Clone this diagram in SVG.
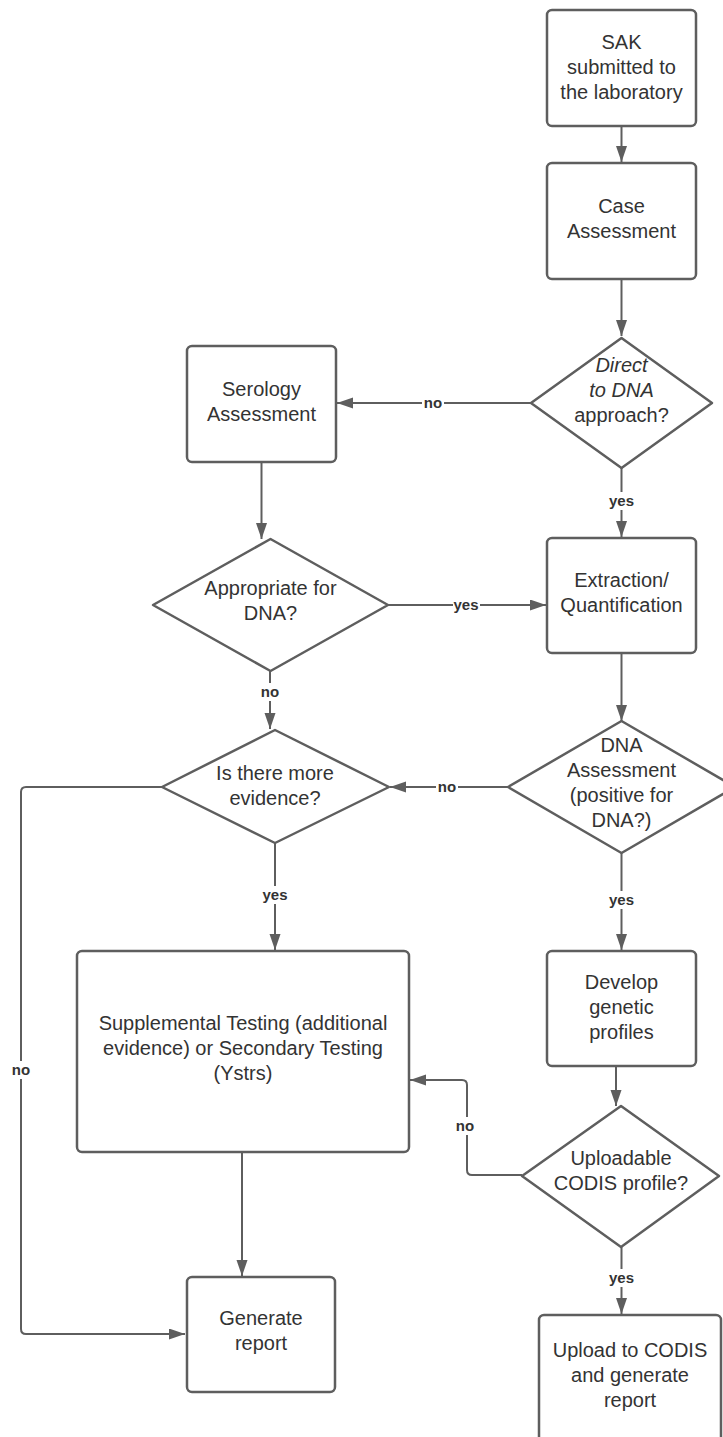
<svg xmlns="http://www.w3.org/2000/svg" width="723" height="1437" viewBox="0 0 723 1437">
<style>
.box{fill:#fff;stroke:#5e5e5e;stroke-width:2.5;stroke-linejoin:round}
.t{font-family:"Liberation Sans",Arial,sans-serif;font-size:20px;fill:#333;text-anchor:middle}
.i{font-style:italic}
.c{fill:none;stroke:#5e5e5e;stroke-width:2}
.lb{font-family:"Liberation Sans",Arial,sans-serif;font-size:15px;font-weight:bold;fill:#333;text-anchor:middle}
.bg{fill:#fff}
</style>
<defs>
<marker id="ah" markerUnits="userSpaceOnUse" markerWidth="17" markerHeight="12" refX="16" refY="5.5" orient="auto">
<path d="M0,0 L16,5.5 L0,11 z" fill="#5e5e5e"/>
</marker>
</defs>
<rect width="723" height="1437" fill="#fff"/>
<g id="connectors">
<path class="c" d="M621.5,126 V162" marker-end="url(#ah)"/>
<path class="c" d="M621.5,279 V336" marker-end="url(#ah)"/>
<path class="c" d="M531,403 H337" marker-end="url(#ah)"/>
<path class="c" d="M621.5,468 V537" marker-end="url(#ah)"/>
<path class="c" d="M261.5,462 V539" marker-end="url(#ah)"/>
<path class="c" d="M388,605 H546" marker-end="url(#ah)"/>
<path class="c" d="M270,671 V729" marker-end="url(#ah)"/>
<path class="c" d="M621.5,653 V721" marker-end="url(#ah)"/>
<path class="c" d="M508,787 H390" marker-end="url(#ah)"/>
<path class="c" d="M162,787 H26 Q21,787 21,792 V1329 Q21,1334 26,1334 H185" marker-end="url(#ah)"/>
<path class="c" d="M275,843 V950" marker-end="url(#ah)"/>
<path class="c" d="M621.5,853 V950" marker-end="url(#ah)"/>
<path class="c" d="M616,1066 V1106" marker-end="url(#ah)"/>
<path class="c" d="M522,1175 H472 Q467,1175 467,1170 V1085 Q467,1080 462,1080 H410" marker-end="url(#ah)"/>
<path class="c" d="M621.5,1247 V1314" marker-end="url(#ah)"/>
<path class="c" d="M242,1152 V1276" marker-end="url(#ah)"/>
<rect class="bg" x="422" y="394" width="22" height="18"/><text class="lb" x="433" y="408">no</text>
<rect class="bg" x="453" y="596" width="27" height="18"/><text class="lb" x="466" y="610">yes</text>
<rect class="bg" x="259" y="683" width="22" height="18"/><text class="lb" x="270" y="697">no</text>
<rect class="bg" x="608" y="492" width="27" height="18"/><text class="lb" x="621.5" y="506">yes</text>
<rect class="bg" x="436" y="778" width="22" height="18"/><text class="lb" x="447" y="792">no</text>
<rect class="bg" x="262" y="886" width="27" height="18"/><text class="lb" x="275" y="900">yes</text>
<rect class="bg" x="608" y="891" width="27" height="18"/><text class="lb" x="621.5" y="905">yes</text>
<rect class="bg" x="10" y="1061" width="22" height="18"/><text class="lb" x="21" y="1075">no</text>
<rect class="bg" x="454" y="1117" width="22" height="18"/><text class="lb" x="465" y="1131">no</text>
<rect class="bg" x="608" y="1269" width="27" height="18"/><text class="lb" x="621.5" y="1283">yes</text>
</g>
<g id="n-sak">
<rect class="box" x="547" y="10" width="149" height="116" rx="5"/>
<text class="t" x="621.5" y="49">SAK</text>
<text class="t" x="621.5" y="74">submitted to</text>
<text class="t" x="621.5" y="99">the laboratory</text>
</g>
<g id="n-case">
<rect class="box" x="547" y="163" width="149" height="116" rx="5"/>
<text class="t" x="621.5" y="213">Case</text>
<text class="t" x="621.5" y="238">Assessment</text>
</g>
<g id="n-direct">
<path class="box" d="M621.5,338 L712,403 L621.5,468 L531,403 Z"/>
<text class="t i" x="621.5" y="372">Direct</text>
<text class="t i" x="621.5" y="397">to DNA</text>
<text class="t" x="621.5" y="422">approach?</text>
</g>
<g id="n-serology">
<rect class="box" x="187" y="346" width="149" height="116" rx="5"/>
<text class="t" x="261.5" y="396">Serology</text>
<text class="t" x="261.5" y="421">Assessment</text>
</g>
<g id="n-appropriate">
<path class="box" d="M270.5,539 L388,605 L270.5,671 L153,605 Z"/>
<text class="t" x="270.5" y="595">Appropriate for</text>
<text class="t" x="270.5" y="620">DNA?</text>
</g>
<g id="n-extraction">
<rect class="box" x="547" y="538" width="149" height="115" rx="5"/>
<text class="t" x="621.5" y="587">Extraction/</text>
<text class="t" x="621.5" y="612">Quantification</text>
</g>
<g id="n-dna">
<path class="box" d="M621.5,721 L735,787 L621.5,853 L508,787 Z"/>
<text class="t" x="621.5" y="752">DNA</text>
<text class="t" x="621.5" y="777">Assessment</text>
<text class="t" x="621.5" y="802">(positive for</text>
<text class="t" x="621.5" y="827">DNA?)</text>
</g>
<g id="n-more">
<path class="box" d="M275,730 L389,787 L275,843 L162,787 Z"/>
<text class="t" x="275" y="780">Is there more</text>
<text class="t" x="275" y="805">evidence?</text>
</g>
<g id="n-supplemental">
<rect class="box" x="77" y="951" width="332" height="201" rx="5"/>
<text class="t" x="243" y="1030">Supplemental Testing (additional</text>
<text class="t" x="243" y="1055">evidence) or Secondary Testing</text>
<text class="t" x="243" y="1080">(Ystrs)</text>
</g>
<g id="n-develop">
<rect class="box" x="547" y="951" width="149" height="115" rx="5"/>
<text class="t" x="621.5" y="989">Develop</text>
<text class="t" x="621.5" y="1014">genetic</text>
<text class="t" x="621.5" y="1039">profiles</text>
</g>
<g id="n-uploadable">
<path class="box" d="M621,1106 L719,1176 L621,1247 L522,1176 Z"/>
<text class="t" x="621" y="1165">Uploadable</text>
<text class="t" x="621" y="1190">CODIS profile?</text>
</g>
<g id="n-generate">
<rect class="box" x="187" y="1277" width="148" height="115" rx="5"/>
<text class="t" x="261" y="1325">Generate</text>
<text class="t" x="261" y="1350">report</text>
</g>
<g id="n-upload">
<rect class="box" x="539" y="1315" width="182" height="140" rx="5"/>
<text class="t" x="630" y="1357">Upload to CODIS</text>
<text class="t" x="630" y="1382">and generate</text>
<text class="t" x="630" y="1407">report</text>
</g>
</svg>
